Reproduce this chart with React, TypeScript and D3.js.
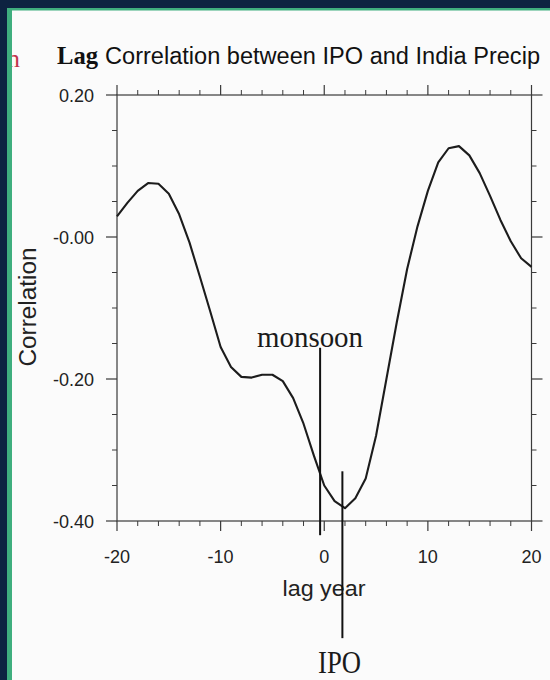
import React from 'react';
import * as d3 from 'd3';

// Lag (years) and the lag correlation between IPO and India precipitation
const lags = [
  -20, -19, -18, -17, -16, -15, -14, -13, -12, -11, -10, -9, -8, -7, -6, -5, -4, -3, -2, -1, 0,
  1, 2, 3, 4, 5, 6, 7, 8, 9, 10, 11, 12, 13, 14, 15, 16, 17, 18, 19, 20,
];
const correlation = [
  0.029, 0.048, 0.065, 0.076, 0.075, 0.061, 0.032, -0.008, -0.056, -0.105, -0.155, -0.183, -0.197,
  -0.198, -0.194, -0.194, -0.203, -0.227, -0.263, -0.308, -0.35, -0.372, -0.382, -0.368, -0.34,
  -0.28, -0.2, -0.12, -0.045, 0.015, 0.065, 0.105, 0.125, 0.128, 0.115, 0.09, 0.058, 0.024, -0.006,
  -0.03, -0.042,
];

const xTickValues = [-20, -10, 0, 10, 20];
const xTickLabels = ['-20', '-10', '0', '10', '20'];
const yTickValues = [0.2, 0, -0.2, -0.4];
const yTickLabels = ['0.20', '-0.00', '-0.20', '-0.40'];

// Annotation markers: lag position, top and bottom end in correlation units
const markerNames = ['monsoon', 'IPO'];
const markerLags = [-0.4, 1.75];
const markerTops = [-0.156, -0.33];
const markerBottoms = [-0.42, -0.565];

const W = 550;
const H = 680;

export default function App() {
  const x = d3.scaleLinear().domain([-20, 20]).range([117, 531.5]);
  const y = d3.scaleLinear().domain([-0.4, 0.2]).range([521, 95]);

  const line = d3
    .line<number>()
    .x((_, i) => x(lags[i]))
    .y((d) => y(d));

  const xMinor = x.ticks(20).filter((t) => !xTickValues.includes(t));
  const yMinor = y.ticks(12).filter((t) => !yTickValues.some((v) => Math.abs(v - t) < 1e-9));

  const [x0, x1] = x.range();
  const [yBottom, yTop] = y.range();
  const axisColor = '#3a3a3a';
  const sans = 'Liberation Sans, Arial, Helvetica, sans-serif';
  const serif = 'Liberation Serif, Times New Roman, serif';

  return (
    <svg
      width={W}
      height={H}
      viewBox={`0 0 ${W} ${H}`}
      style={{ position: 'absolute', left: 0, top: 0, display: 'block' }}
    >
      <rect x={0} y={0} width={W} height={H} fill="#fbfbfb" />

      {/* stray red glyph at the left edge */}
      <text x={20} y={67} textAnchor="end" fontFamily={serif} fontSize={26} fill="#c2354c">
        n
      </text>

      {/* title */}
      <text x={57} y={64} fontFamily={serif} fontWeight="bold" fontSize={25} fill="#111"
        textLength={41} lengthAdjust="spacingAndGlyphs">
        Lag
      </text>
      <text x={105} y={64} fontFamily={sans} fontSize={23} fill="#111"
        textLength={435} lengthAdjust="spacingAndGlyphs">
        Correlation between IPO and India Precip
      </text>

      {/* frame */}
      <rect x={x0} y={yTop} width={x1 - x0} height={yBottom - yTop} fill="none"
        stroke={axisColor} strokeWidth={1.2} />

      {/* x ticks: bottom (down) and top (up) */}
      {xTickValues.map((t) => (
        <g key={`xM${t}`} stroke={axisColor} strokeWidth={1.2}>
          <line x1={x(t)} x2={x(t)} y1={yBottom} y2={yBottom + 10} />
          <line x1={x(t)} x2={x(t)} y1={yTop} y2={yTop - 10} />
        </g>
      ))}
      {xMinor.map((t) => (
        <g key={`xm${t}`} stroke={axisColor} strokeWidth={1}>
          <line x1={x(t)} x2={x(t)} y1={yBottom} y2={yBottom + 5} />
          <line x1={x(t)} x2={x(t)} y1={yTop} y2={yTop - 5} />
        </g>
      ))}

      {/* y ticks: left (outward) and right (outward) */}
      {yTickValues.map((t) => (
        <g key={`yM${t}`} stroke={axisColor} strokeWidth={1.2}>
          <line x1={x0 - 11} x2={x0} y1={y(t)} y2={y(t)} />
          <line x1={x1} x2={x1 + 11} y1={y(t)} y2={y(t)} />
        </g>
      ))}
      {yMinor.map((t) => (
        <g key={`ym${t}`} stroke={axisColor} strokeWidth={1}>
          <line x1={x0 - 5} x2={x0} y1={y(t)} y2={y(t)} />
          <line x1={x1} x2={x1 + 5} y1={y(t)} y2={y(t)} />
        </g>
      ))}

      {/* tick labels */}
      {xTickValues.map((t, i) => (
        <text key={`xl${t}`} x={x(t)} y={563} textAnchor="middle" fontFamily={sans}
          fontSize={18} fill="#222">
          {xTickLabels[i]}
        </text>
      ))}
      {yTickValues.map((t, i) => (
        <text key={`yl${t}`} x={94} y={y(t) + 6.5} textAnchor="end" fontFamily={sans}
          fontSize={18} fill="#222">
          {yTickLabels[i]}
        </text>
      ))}

      {/* axis titles */}
      <text x={324} y={596} textAnchor="middle" fontFamily={sans} fontSize={22} fill="#222"
        textLength={83} lengthAdjust="spacingAndGlyphs">
        lag year
      </text>
      <text transform={`translate(35.5, 307) rotate(-90)`} textAnchor="middle" fontFamily={sans}
        fontSize={23} fill="#222" textLength={119} lengthAdjust="spacingAndGlyphs">
        Correlation
      </text>

      {/* correlation curve */}
      <path d={line(correlation) ?? ''} fill="none" stroke="#1c1c1c" strokeWidth={2.1}
        strokeLinejoin="round" />

      {/* annotation markers */}
      {markerNames.map((name, i) => (
        <line key={`mk${name}`} x1={x(markerLags[i])} x2={x(markerLags[i])}
          y1={y(markerTops[i])} y2={y(markerBottoms[i])} stroke="#111" strokeWidth={2} />
      ))}
      <text x={310} y={347} textAnchor="middle" fontFamily={serif} fontSize={30} fill="#1a1a1a"
        textLength={106} lengthAdjust="spacingAndGlyphs">
        {markerNames[0]}
      </text>
      <text x={339.5} y={673} textAnchor="middle" fontFamily={serif} fontSize={31} fill="#1a1a1a"
        textLength={43} lengthAdjust="spacingAndGlyphs">
        {markerNames[1]}
      </text>

      {/* slide border */}
      <rect x={0} y={0} width={W} height={8} fill="#0d2341" />
      <rect x={0} y={0} width={7} height={H} fill="#0d2341" />
      <rect x={7} y={8} width={W - 7} height={2.5} fill="#3fae7e" />
      <rect x={7} y={8} width={5} height={H - 8} fill="#3fae7e" />
    </svg>
  );
}
